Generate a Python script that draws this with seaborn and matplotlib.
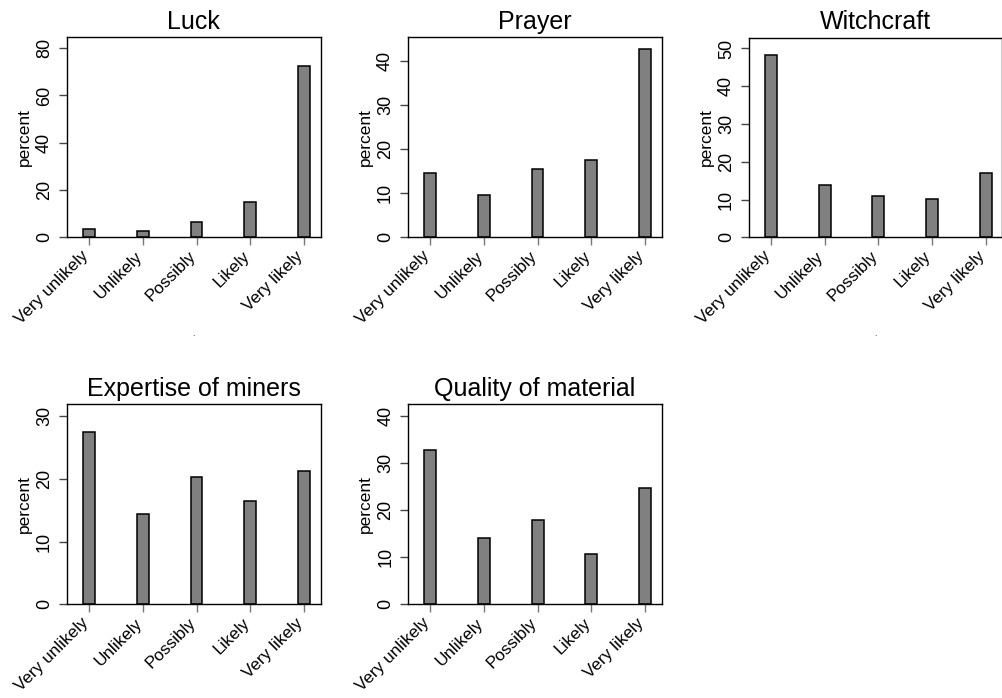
import matplotlib
matplotlib.use("Agg")
import matplotlib.pyplot as plt
import matplotlib.transforms as mtransforms
import seaborn as sns
import pandas as pd

categories = ["Very unlikely", "Unlikely", "Possibly", "Likely", "Very likely"]
titles = ["Luck", "Prayer", "Witchcraft", "Expertise of miners", "Quality of material"]
luck = [3.4, 2.8, 6.5, 14.8, 72.6]
prayer = [14.5, 9.6, 15.6, 17.5, 42.9]
witchcraft = [48.2, 13.9, 10.9, 10.1, 17.0]
expertise = [27.5, 14.4, 20.3, 16.4, 21.3]
quality = [32.7, 14.0, 17.9, 10.6, 24.8]
y_tops = [84.6, 45.45, 52.9, 31.86, 42.5]
y_ticks = [[0, 20, 40, 60, 80], [0, 10, 20, 30, 40], [0, 10, 20, 30, 40, 50],
           [0, 10, 20, 30], [0, 10, 20, 30, 40]]
x_notes = [".", "", ".", "", ""]

series = [luck, prayer, witchcraft, expertise, quality]

sns.set_theme(style="white")
plt.rcParams['font.family'] = ['Liberation Sans', 'DejaVu Sans']
plt.rcParams['text.color'] = 'black'
plt.rcParams['axes.labelcolor'] = 'black'
plt.rcParams['xtick.labelcolor'] = 'black'
plt.rcParams['ytick.labelcolor'] = 'black'

W, H = 1003, 698
fig = plt.figure(figsize=(W / 100, H / 100), dpi=100)

# axes boxes in pixels: left, top, right, bottom
boxes = [
    (67, 37.3, 320.7, 237.3),
    (408, 37.3, 661.7, 237.3),
    (749, 37.5, 1002.3, 237.3),
    (67, 404.3, 320.7, 604.3),
    (408.3, 404.3, 661.7, 604.3),
]

shift = mtransforms.ScaledTranslation(8 / 100, 0, fig.dpi_scale_trans)

for i, (vals, title) in enumerate(zip(series, titles)):
    l, t, r, b = boxes[i]
    ax = fig.add_axes([l / W, (H - b) / H, (r - l) / W, (b - t) / H])
    df = pd.DataFrame({"category": categories, "percent": vals})
    sns.barplot(data=df, x="category", y="percent", ax=ax, color="#808080",
                edgecolor="black", linewidth=1.1, width=0.22, saturation=1)
    ax.set_xlim(-0.41, 4.31)
    ax.set_ylim(0, y_tops[i])
    ax.set_yticks(y_ticks[i])
    ax.set_title(title, fontsize=18, pad=6, color="black")
    ax.set_ylabel("percent", fontsize=12.5, labelpad=3)
    ax.set_xlabel("")
    if x_notes[i]:
        ax.text(0.5, -0.485, x_notes[i], transform=ax.transAxes, fontsize=6,
                ha="center", va="center", color="black")
    ax.set_xticks(range(len(categories)))
    ax.set_xticklabels(categories, rotation=45, ha="right", va="baseline",
                       rotation_mode="anchor", fontsize=12.3)
    for lab in ax.get_xticklabels():
        lab.set_transform(lab.get_transform() + shift)
    ax.tick_params(axis="y", labelrotation=90, labelsize=13, length=6, width=1,
                   color="#444444", pad=4, left=True)
    for lab in ax.get_yticklabels():
        lab.set_va("center")
    ax.tick_params(axis="x", length=6, width=1, color="#777777", pad=8, bottom=True)
    for s in ax.spines.values():
        s.set_visible(True)
        s.set_color("black")
        s.set_linewidth(1)
    ax.grid(False)

fig.savefig("out.png", dpi=100)
